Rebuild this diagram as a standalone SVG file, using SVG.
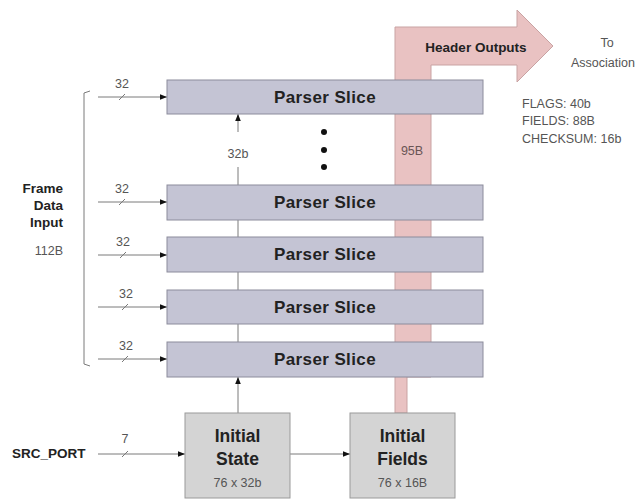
<svg xmlns="http://www.w3.org/2000/svg" width="641" height="500" viewBox="0 0 641 500">
<defs>
<style>
.slice{fill:#c4c4d4;stroke:#8c8c9c;stroke-width:1}
.init{fill:#d4d4d4;stroke:#9a9a9a;stroke-width:1}
.pink{fill:#e9c2c2;stroke:#c9a3a3;stroke-width:1}
.wire{stroke:#7a7a7a;stroke-width:1;fill:none}
.arr{marker-end:url(#ah)}
.slash{stroke:#7a7a7a;stroke-width:1}
.st{font-family:"Liberation Sans",Arial,sans-serif;font-weight:bold;font-size:17px;fill:#222;text-anchor:middle;letter-spacing:0.4px}
.bt{font-family:"Liberation Sans",Arial,sans-serif;font-weight:bold;fill:#222}
.nt{font-family:"Liberation Sans",Arial,sans-serif;font-size:12.5px;fill:#555}
.mid{text-anchor:middle}
.end{text-anchor:end}
</style>
<marker id="ah" viewBox="0 0 10 10" refX="10" refY="5" markerWidth="9" markerHeight="7" markerUnits="userSpaceOnUse" orient="auto">
<path d="M0,1 L10,5 L0,9 Z" fill="#111"/>
</marker>
</defs>

<g id="header-outputs">
<polygon class="pink" points="395,377 395,27 517,27 517,10 553,46 517,82 517,65 431,65 431,377"/>
<rect class="pink" x="395" y="376" width="12" height="37"/>
<text class="bt mid" x="476" y="52" font-size="13.5">Header Outputs</text>
<text class="nt mid" x="412" y="155" fill="#6a5555" style="fill:#6a5555" font-size="13">95B</text>
</g>

<g id="connectors">
<path class="wire" d="M90,91 L84,93 L84,364 L90,366"/>
<line class="wire arr" x1="98" y1="97" x2="167" y2="97"/>
<line class="wire arr" x1="98" y1="202" x2="167" y2="202"/>
<line class="wire arr" x1="98" y1="255" x2="167" y2="255"/>
<line class="wire arr" x1="98" y1="307" x2="167" y2="307"/>
<line class="wire arr" x1="98" y1="359" x2="167" y2="359"/>
<line class="slash" x1="119" y1="100" x2="125" y2="94"/>
<line class="slash" x1="119" y1="205" x2="125" y2="199"/>
<line class="slash" x1="120" y1="258" x2="126" y2="252"/>
<line class="slash" x1="122" y1="310" x2="128" y2="304"/>
<line class="slash" x1="122" y1="362" x2="128" y2="356"/>
<line class="wire arr" x1="238" y1="132" x2="238" y2="114"/>
<line class="wire" x1="238" y1="167" x2="238" y2="185"/>
<line class="wire" x1="238" y1="220" x2="238" y2="237"/>
<line class="wire" x1="238" y1="272" x2="238" y2="290"/>
<line class="wire" x1="238" y1="324" x2="238" y2="342"/>
<line class="wire arr" x1="238" y1="413" x2="238" y2="377"/>
<line class="wire arr" x1="98" y1="454" x2="185" y2="454"/>
<line class="slash" x1="122" y1="457" x2="128" y2="451"/>
<line class="wire arr" x1="290" y1="454" x2="350" y2="454"/>
</g>

<g id="labels">
<text class="nt mid" x="122" y="88">32</text>
<text class="nt mid" x="122" y="193">32</text>
<text class="nt mid" x="123" y="246">32</text>
<text class="nt mid" x="126" y="298">32</text>
<text class="nt mid" x="126" y="350">32</text>
<text class="nt mid" x="238" y="158">32b</text>
<text class="nt mid" x="125" y="443">7</text>
<text class="bt end" x="63" y="193" font-size="13.5">Frame</text>
<text class="bt end" x="63" y="210" font-size="13.5">Data</text>
<text class="bt end" x="63" y="227" font-size="13.5">Input</text>
<text class="nt end" x="63" y="255">112B</text>
<text class="bt" x="12" y="458" font-size="13.5">SRC_PORT</text>
<text class="nt mid" x="607" y="47" font-size="13">To</text>
<text class="nt mid" x="603" y="67" font-size="13">Association</text>
<text class="nt" x="522" y="108" font-size="13">FLAGS: 40b</text>
<text class="nt" x="522" y="125" font-size="13">FIELDS: 88B</text>
<text class="nt" x="522" y="143" font-size="13">CHECKSUM: 16b</text>
<circle cx="324" cy="132" r="3" fill="#111"/>
<circle cx="324" cy="150" r="3" fill="#111"/>
<circle cx="324" cy="167" r="3" fill="#111"/>
</g>

<g id="slice-1"><rect class="slice" x="167" y="80" width="316" height="34"/><text class="st" x="325" y="103">Parser Slice</text></g>
<g id="slice-2"><rect class="slice" x="167" y="185" width="316" height="35"/><text class="st" x="325" y="208">Parser Slice</text></g>
<g id="slice-3"><rect class="slice" x="167" y="237" width="316" height="35"/><text class="st" x="325" y="260">Parser Slice</text></g>
<g id="slice-4"><rect class="slice" x="167" y="290" width="316" height="34"/><text class="st" x="325" y="313">Parser Slice</text></g>
<g id="slice-5"><rect class="slice" x="167" y="342" width="316" height="35"/><text class="st" x="325" y="365">Parser Slice</text></g>

<g id="initial-state">
<rect class="init" x="185" y="413" width="105" height="85"/>
<text class="bt mid" x="237.5" y="442" font-size="17.5">Initial</text>
<text class="bt mid" x="237.5" y="465" font-size="17.5">State</text>
<text class="nt mid" x="237.5" y="487" font-size="13">76 x 32b</text>
</g>
<g id="initial-fields">
<rect class="init" x="350" y="413" width="105" height="85"/>
<text class="bt mid" x="402.5" y="442" font-size="17.5">Initial</text>
<text class="bt mid" x="402.5" y="465" font-size="17.5">Fields</text>
<text class="nt mid" x="402.5" y="487" font-size="13">76 x 16B</text>
</g>
</svg>
